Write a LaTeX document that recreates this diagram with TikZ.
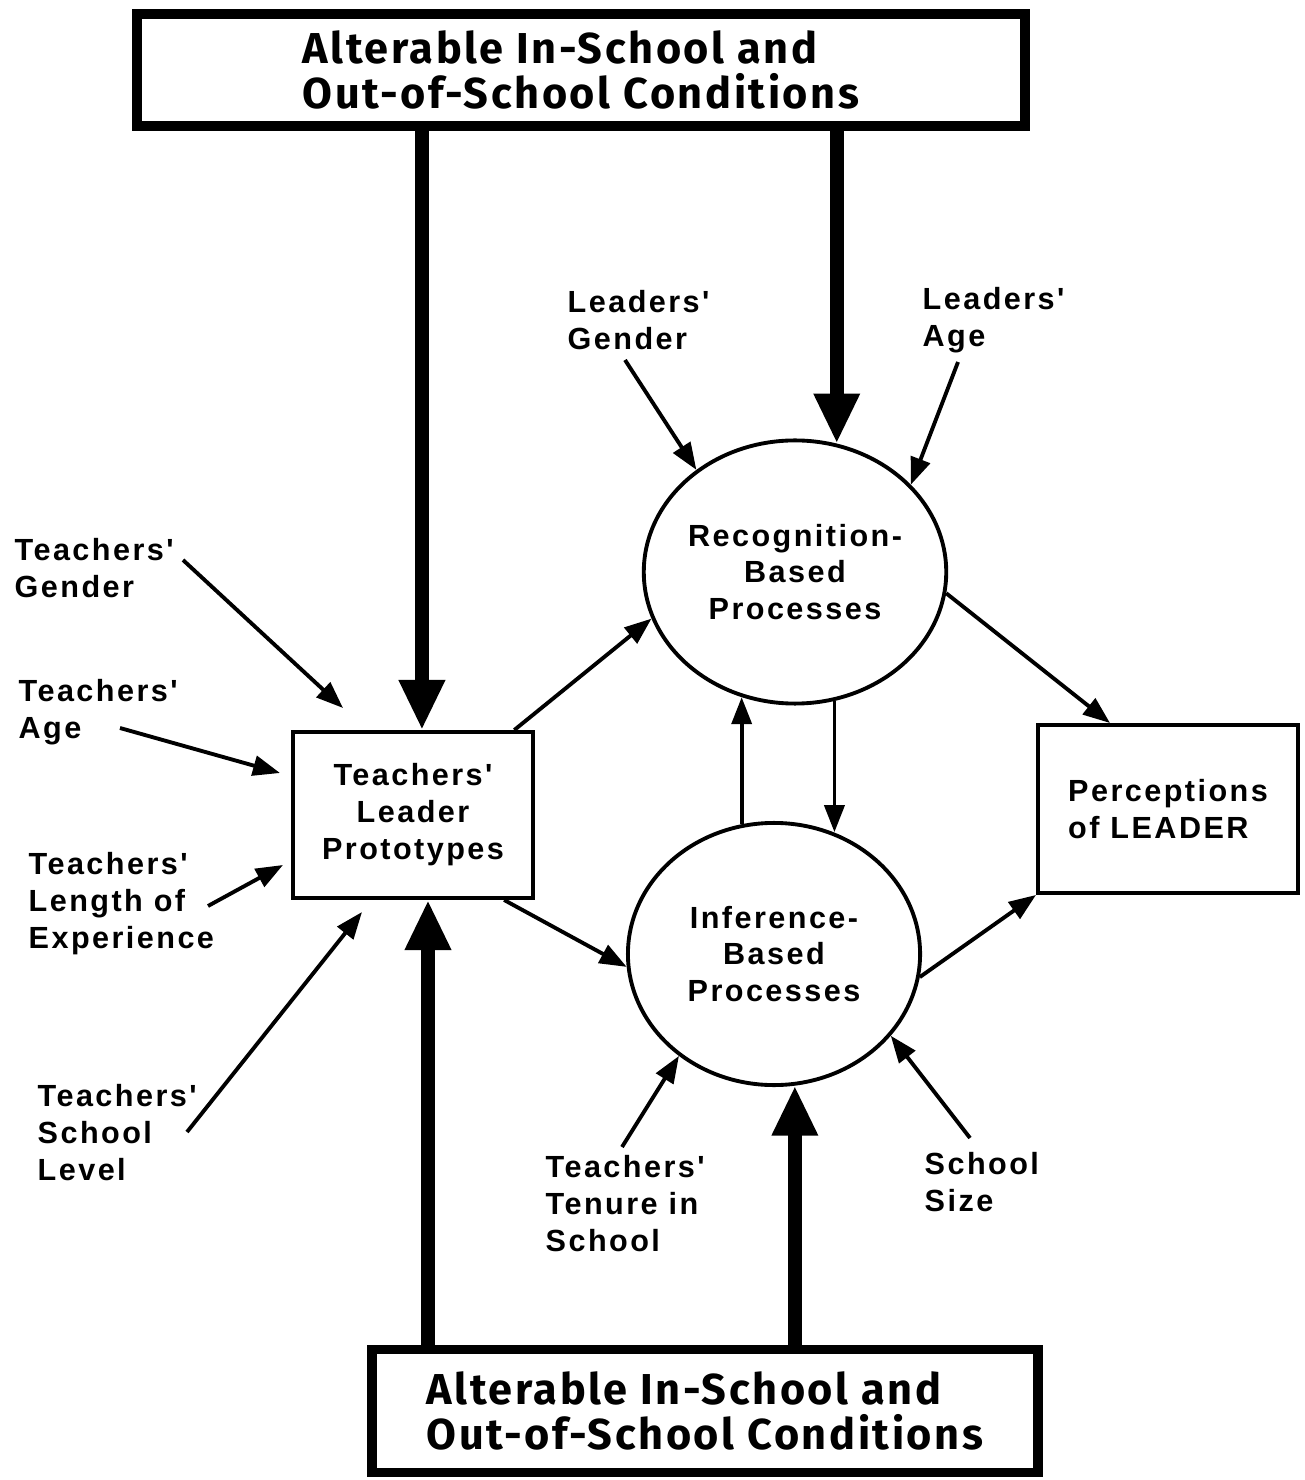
\documentclass[tikz,border=0pt]{standalone}
\usepackage{fontspec}
\newfontfamily\lblfont{Liberation Sans}[LetterSpace=8]
\newfontfamily\condfont{Fira Sans}[LetterSpace=6]
\usetikzlibrary{shapes.geometric,arrows.meta,calc}

\tikzset{
  lbl/.style={anchor=north west, inner sep=0pt, align=left,
    font=\lblfont\fontsize{8.7}{10.5}\selectfont\bfseries},
  cond/.style={draw, line width=2.8pt, inner sep=0pt, align=left,
    font=\condfont\bfseries\fontsize{12.3}{12.6}\selectfont},
  frame/.style={draw, line width=1.1pt, inner sep=0pt,
    font=\lblfont\fontsize{8.7}{10.5}\selectfont\bfseries},
  proc/.style={draw, ellipse, line width=1.1pt, inner sep=0pt, align=center,
    minimum width=2.91cm, minimum height=2.63cm,
    font=\lblfont\fontsize{8.7}{10.5}\selectfont\bfseries},
  arr/.style={line width=1.1pt, -{Triangle[width=0.2cm,length=0.27cm]}},
  bigarr/.style={line width=4pt, -{Triangle[width=0.43cm,length=0.5cm]}}
}

\begin{document}
\begin{tikzpicture}[x=0.01cm, y=-0.01cm]

\useasboundingbox (0,0) rectangle (1304,1480);

% --- conditions boxes ---
\node[cond, minimum width=8.87cm, minimum height=1.12cm] (cond1) at (581,70)
  {Alterable In-School and\\Out-of-School Conditions};
\node[cond, minimum width=6.66cm, minimum height=1.23cm] (cond2) at (705,1411)
  {Alterable In-School and\\Out-of-School Conditions};

% --- main nodes ---
\node[frame, align=center, minimum width=2.40cm, minimum height=1.66cm] (proto) at (413,815)
  {Teachers'\\Leader\\Prototypes};
\node[proc] (rec) at (795,572) {Recognition-\\Based\\Processes};
\node[proc, minimum width=2.92cm, minimum height=2.62cm] (inf) at (774,954)
  {Inference-\\Based\\Processes};
\node[frame, align=left, minimum width=2.60cm, minimum height=1.68cm] (perc) at (1168,809)
  {Perceptions\\of LEADER};

% --- labels ---
\node[lbl] (lgender) at (567,290) {Leaders'\\Gender};
\node[lbl] (lage) at (922,287) {Leaders'\\Age};
\node[lbl] (tgender) at (14,538) {Teachers'\\Gender};
\node[lbl] (tage) at (18,679) {Teachers'\\Age};
\node[lbl] (tlength) at (28,852) {Teachers'\\Length of\\Experience};
\node[lbl] (tlevel) at (37,1084) {Teachers'\\School\\Level};
\node[lbl] (ttenure) at (545,1155) {Teachers'\\Tenure in\\School};
\node[lbl] (ssize) at (924,1152) {School\\Size};

% free ends
\coordinate (lg0) at (625,360);
\coordinate (la0) at (958,362);
\coordinate (tg0) at (183,560);
\coordinate (tg1) at (343,708);
\coordinate (ta0) at (120,728);
\coordinate (ta1) at (280,773);
\coordinate (tl0) at (208,906);
\coordinate (tl1) at (283,865);
\coordinate (ts0) at (187,1132);
\coordinate (ts1) at (362,912);
\coordinate (tt0) at (622,1147);
\coordinate (ss0) at (970,1138);

% --- heavy arrows ---
\draw[bigarr] (proto.84 |- cond1.south) -- (proto.84);
\draw[bigarr] (rec.72 |- cond1.south) -- (rec.72);
\draw[bigarr] (proto.-80 |- cond2.north) -- (proto.-80);
\draw[bigarr] (inf.-81 |- cond2.north) -- (inf.-81);

% --- thin arrows ---
\draw[arr] (lg0) -- (rec.134);
\draw[arr] (la0) -- (rec.37);
\draw[arr] (tg0) -- (tg1);
\draw[arr] (ta0) -- (ta1);
\draw[arr] (tl0) -- (tl1);
\draw[arr] (ts0) -- (ts1);
\draw[arr] (tt0) -- (inf.227);
\draw[arr] (ss0) -- (inf.-35);

\draw[arr] (proto.40.6) -- (rec.198);
\draw[arr] (proto.-43) -- (inf.185);
\draw[arr] (rec.-8) -- (perc.124);
\draw[arr] (inf.-9) -- (perc.south west);
\draw[arr] (inf.104) -- (inf.104 |- rec.247);
\draw[arr] (rec.-73.5) -- (rec.-73.5 |- inf.64);

\end{tikzpicture}
\end{document}
